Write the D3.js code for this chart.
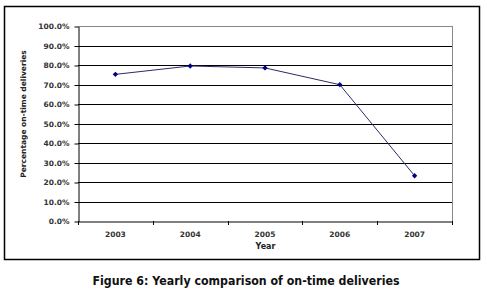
<!DOCTYPE html>
<html><head><meta charset="utf-8">
<script src="https://cdn.jsdelivr.net/npm/d3@7/dist/d3.min.js"></script>
<style>body{margin:0;background:#fff}svg{display:block}</style>
</head><body>
<svg id="c" width="487" height="292"></svg>
<script>
const years = ["2003","2004","2005","2006","2007"];
const onTime = [0.752, 0.795, 0.785, 0.699, 0.232];
const yTicks = [0,0.1,0.2,0.3,0.4,0.5,0.6,0.7,0.8,0.9,1.0];

const svg = d3.select("#c");
const L=78, R=452, T=26, B=221;
const x = d3.scaleBand().domain(years).range([L,R]);
const y = d3.scaleLinear().domain([0,1]).range([B,T]);

// outer border
svg.append("rect").attr("x",4.5).attr("y",6.5).attr("width",475).attr("height",253)
  .attr("fill","#fff").attr("stroke","#000").attr("stroke-width",1.5);

// gridlines
svg.append("g").selectAll("line").data(yTicks.filter(d=>d>0)).join("line")
  .attr("x1",L).attr("x2",R).attr("y1",d=>Math.round(y(d))+0.5).attr("y2",d=>Math.round(y(d))+0.5)
  .attr("stroke",d=>d===1?"#888":"#000").attr("stroke-width",1);
// right plot border
svg.append("line").attr("x1",R+0.5).attr("x2",R+0.5).attr("y1",T).attr("y2",B)
  .attr("stroke","#888").attr("stroke-width",1);

const font = "Verdana, 'DejaVu Sans', sans-serif";
// y axis
const yAx = svg.append("g").attr("transform",`translate(${L+0.5},0.5)`)
  .call(d3.axisLeft(y).tickValues(yTicks).tickFormat(d3.format(".1%")).tickSize(4).tickSizeOuter(0));
yAx.select(".domain").attr("stroke","#000");
yAx.selectAll("text").attr("font-family",font).attr("font-size",7.5).attr("font-weight","bold")
  .attr("fill","#333").attr("x",-9);
// x axis
const xAx = svg.append("g").attr("transform",`translate(0,${B+0.5})`)
  .call(d3.axisBottom(x).tickSize(0).tickSizeOuter(0));
xAx.select(".domain").attr("stroke","#000");
xAx.selectAll("text").attr("font-family",font).attr("font-size",7.5).attr("font-weight","bold")
  .attr("fill","#333").attr("dy","0").attr("y",15);
// x ticks at band boundaries
svg.append("g").selectAll("line").data(years.concat(["end"])).join("line")
  .attr("x1",(d,i)=>Math.round(L+i*x.bandwidth())+0.5).attr("x2",(d,i)=>Math.round(L+i*x.bandwidth())+0.5)
  .attr("y1",B).attr("y2",B+4).attr("stroke","#000");

// axis titles
svg.append("text").attr("x",L+(R-L)/2+0.5).attr("y",249).attr("text-anchor","middle")
  .attr("font-family",font).attr("font-size",8).attr("font-weight","bold").attr("fill","#222").text("Year");
svg.append("text").attr("transform","translate(26,114) rotate(-90)").attr("text-anchor","middle")
  .attr("font-family",font).attr("font-size",7.5).attr("font-weight","bold").attr("fill","#222")
  .text("Percentage on-time deliveries");

// line
const pts = years.map((yr,i)=>[x(yr)+x.bandwidth()/2, y(onTime[i])]);
svg.append("path").attr("d",d3.line()(pts)).attr("fill","none").attr("stroke","#2a2a6a").attr("stroke-width",1);
svg.append("g").selectAll("path").data(pts).join("path")
  .attr("transform",d=>`translate(${d[0]},${d[1]})`)
  .attr("d",d3.symbol(d3.symbolDiamond2,18)).attr("fill","#000080");

// caption
svg.append("text").attr("x",246).attr("y",285).attr("text-anchor","middle")
  .attr("font-family","'DejaVu Sans', Verdana, sans-serif").attr("font-size",12).attr("font-weight","bold")
  .attr("fill","#111").attr("textLength",307).attr("lengthAdjust","spacingAndGlyphs")
  .text("Figure 6: Yearly comparison of on-time deliveries");
</script>
</body></html>
